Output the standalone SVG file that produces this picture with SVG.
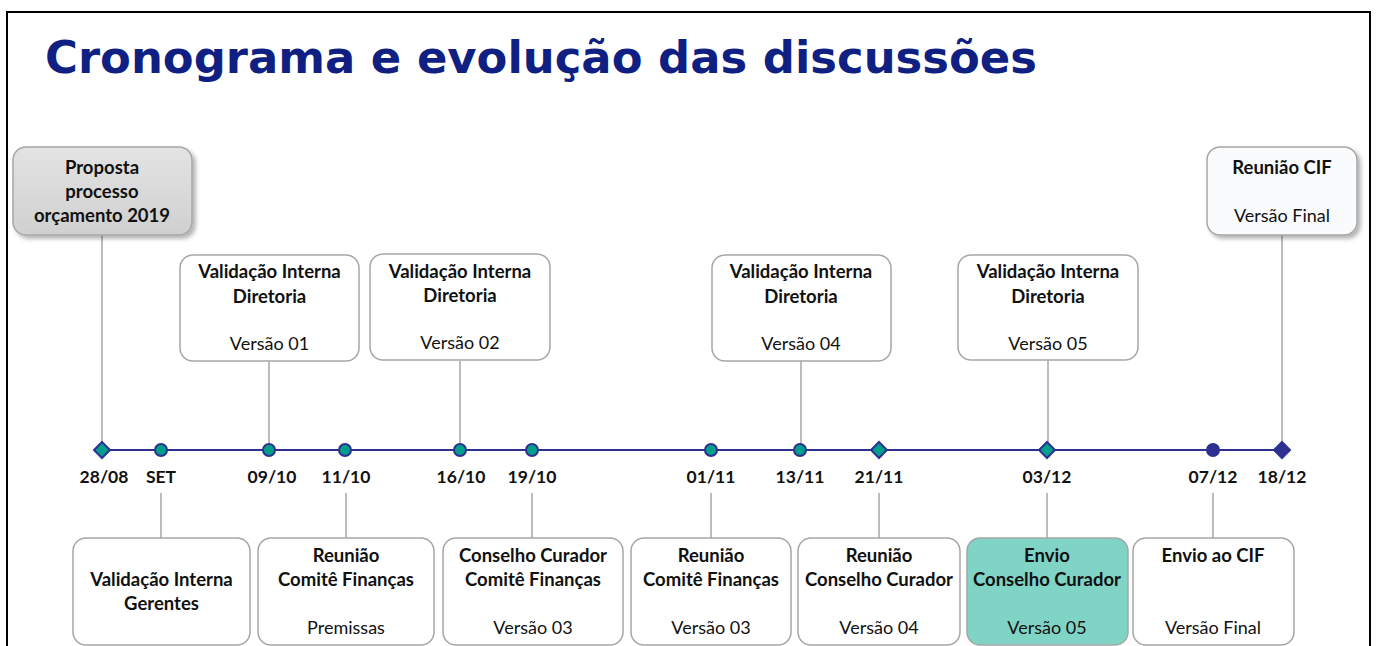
<svg xmlns="http://www.w3.org/2000/svg" width="1377" height="646" viewBox="0 0 1377 646">
<defs>
<style>
.box{fill:#fff;stroke:#A6A6A6;stroke-width:1.5}
.b{font-family:Lato,"Open Sans",sans-serif;font-weight:bold;font-size:18.5px;fill:#111;text-anchor:middle}
.n{font-family:Lato,"Open Sans",sans-serif;font-size:18px;fill:#111;text-anchor:middle}
.d{font-family:Lato,"Open Sans",sans-serif;font-weight:bold;font-size:17.5px;fill:#111;text-anchor:middle}
.con{stroke:#A6A6A6;stroke-width:1.5;fill:none}
.c{fill:#009F8B;stroke:#2E3192;stroke-width:2}
.nv{fill:#2E3192;stroke:#2E3192;stroke-width:2}
</style>
<linearGradient id="gg" x1="0" y1="0" x2="0" y2="1">
<stop offset="0" stop-color="#E3E3E3"/><stop offset="1" stop-color="#D0D0D0"/>
</linearGradient>
<filter id="sh" x="-10%" y="-10%" width="130%" height="130%">
<feDropShadow dx="3" dy="3" stdDeviation="2" flood-color="#000" flood-opacity="0.3"/>
</filter>
</defs>
<rect width="1377" height="646" fill="#fff"/>
<path d="M7,646 V12 H1370 V646" fill="none" stroke="#000" stroke-width="2"/>
<text x="45" y="73" font-family="DejaVu Sans,Verdana,sans-serif" font-weight="bold" font-size="45" fill="#0F1F82" textLength="992" lengthAdjust="spacingAndGlyphs">Cronograma e evolução das discussões</text>

<g id="connectors">
<line class="con" x1="102" y1="235" x2="102" y2="450"/>
<line class="con" x1="269" y1="361" x2="269" y2="450"/>
<line class="con" x1="460" y1="361" x2="460" y2="450"/>
<line class="con" x1="801" y1="361" x2="801" y2="450"/>
<line class="con" x1="1048" y1="360" x2="1048" y2="450"/>
<line class="con" x1="1282" y1="235" x2="1282" y2="450"/>
<line class="con" x1="161" y1="493" x2="161" y2="538"/>
<line class="con" x1="346" y1="493" x2="346" y2="538"/>
<line class="con" x1="532" y1="493" x2="532" y2="538"/>
<line class="con" x1="711" y1="493" x2="711" y2="538"/>
<line class="con" x1="879" y1="493" x2="879" y2="538"/>
<line class="con" x1="1047" y1="493" x2="1047" y2="538"/>
<line class="con" x1="1213" y1="493" x2="1213" y2="538"/>
<line x1="102" y1="450" x2="1282" y2="450" stroke="#2E3192" stroke-width="2"/>
</g>

<g id="markers">
<polygon class="c" points="102,442 110,450 102,458 94,450"/>
<circle class="c" cx="161" cy="450" r="6"/>
<circle class="c" cx="269" cy="450" r="6"/>
<circle class="c" cx="345" cy="450" r="6"/>
<circle class="c" cx="460" cy="450" r="6"/>
<circle class="c" cx="532" cy="450" r="6"/>
<circle class="c" cx="711" cy="450" r="6"/>
<circle class="c" cx="800" cy="450" r="6"/>
<polygon class="c" points="879,442 887,450 879,458 871,450"/>
<polygon class="c" points="1047,442 1055,450 1047,458 1039,450"/>
<circle class="nv" cx="1213" cy="450" r="6"/>
<polygon class="nv" points="1282,442 1290,450 1282,458 1274,450"/>
</g>

<g id="dates">
<text class="d" x="104" y="483">28/08</text>
<text class="d" x="161" y="483">SET</text>
<text class="d" x="272" y="483">09/10</text>
<text class="d" x="346" y="483">11/10</text>
<text class="d" x="461" y="483">16/10</text>
<text class="d" x="532" y="483">19/10</text>
<text class="d" x="711" y="483">01/11</text>
<text class="d" x="800" y="483">13/11</text>
<text class="d" x="879" y="483">21/11</text>
<text class="d" x="1047" y="483">03/12</text>
<text class="d" x="1213" y="483">07/12</text>
<text class="d" x="1282" y="483">18/12</text>
</g>

<g id="n-proposta">
<rect x="13" y="147" width="179" height="88" rx="13" fill="url(#gg)" stroke="#A6A6A6" stroke-width="1.5" filter="url(#sh)"/>
<text class="b" x="102" y="174">Proposta</text>
<text class="b" x="102" y="198">processo</text>
<text class="b" x="102" y="222">orçamento 2019</text>
</g>
<g id="n-v01">
<rect class="box" x="180" y="255" width="179" height="106" rx="13"/>
<text class="b" x="269.5" y="278">Validação Interna</text>
<text class="b" x="269.5" y="303">Diretoria</text>
<text class="n" x="269.5" y="350">Versão 01</text>
</g>
<g id="n-v02">
<rect class="box" x="370" y="254" width="180" height="106" rx="13"/>
<text class="b" x="460" y="278">Validação Interna</text>
<text class="b" x="460" y="302">Diretoria</text>
<text class="n" x="460" y="349">Versão 02</text>
</g>
<g id="n-v04">
<rect class="box" x="712" y="255" width="179" height="106" rx="13"/>
<text class="b" x="801" y="278">Validação Interna</text>
<text class="b" x="801" y="303">Diretoria</text>
<text class="n" x="801" y="350">Versão 04</text>
</g>
<g id="n-v05">
<rect class="box" x="958" y="255" width="180" height="105" rx="13"/>
<text class="b" x="1048" y="278">Validação Interna</text>
<text class="b" x="1048" y="303">Diretoria</text>
<text class="n" x="1048" y="350">Versão 05</text>
</g>
<g id="n-cif">
<rect x="1207" y="147" width="150" height="88" rx="13" fill="#FAFBFD" stroke="#A6A6A6" stroke-width="1.5" filter="url(#sh)"/>
<text class="b" x="1282" y="174">Reunião CIF</text>
<text class="n" x="1282" y="222">Versão Final</text>
</g>

<g id="n-gerentes">
<rect class="box" x="73" y="538" width="177" height="107" rx="13"/>
<text class="b" x="161.5" y="586">Validação Interna</text>
<text class="b" x="161.5" y="610">Gerentes</text>
</g>
<g id="n-premissas">
<rect class="box" x="258" y="538" width="176" height="107" rx="13"/>
<text class="b" x="346" y="562">Reunião</text>
<text class="b" x="346" y="586">Comitê Finanças</text>
<text class="n" x="346" y="634">Premissas</text>
</g>
<g id="n-cc03">
<rect class="box" x="443" y="538" width="180" height="107" rx="13"/>
<text class="b" x="533" y="562">Conselho Curador</text>
<text class="b" x="533" y="586">Comitê Finanças</text>
<text class="n" x="533" y="634">Versão 03</text>
</g>
<g id="n-cf03">
<rect class="box" x="631" y="538" width="160" height="107" rx="13"/>
<text class="b" x="711" y="562">Reunião</text>
<text class="b" x="711" y="586">Comitê Finanças</text>
<text class="n" x="711" y="634">Versão 03</text>
</g>
<g id="n-cc04">
<rect class="box" x="798" y="538" width="162" height="107" rx="13"/>
<text class="b" x="879" y="562">Reunião</text>
<text class="b" x="879" y="586">Conselho Curador</text>
<text class="n" x="879" y="634">Versão 04</text>
</g>
<g id="n-envio">
<rect x="967" y="538" width="161" height="107" rx="13" fill="#80D4C6" stroke="#A6A6A6" stroke-width="1.5"/>
<text class="b" x="1047" y="562">Envio</text>
<text class="b" x="1047" y="586">Conselho Curador</text>
<text class="n" x="1047" y="634">Versão 05</text>
</g>
<g id="n-enviocif">
<rect class="box" x="1133" y="538" width="161" height="107" rx="13"/>
<text class="b" x="1213" y="562">Envio ao CIF</text>
<text class="n" x="1213" y="634">Versão Final</text>
</g>
</svg>
